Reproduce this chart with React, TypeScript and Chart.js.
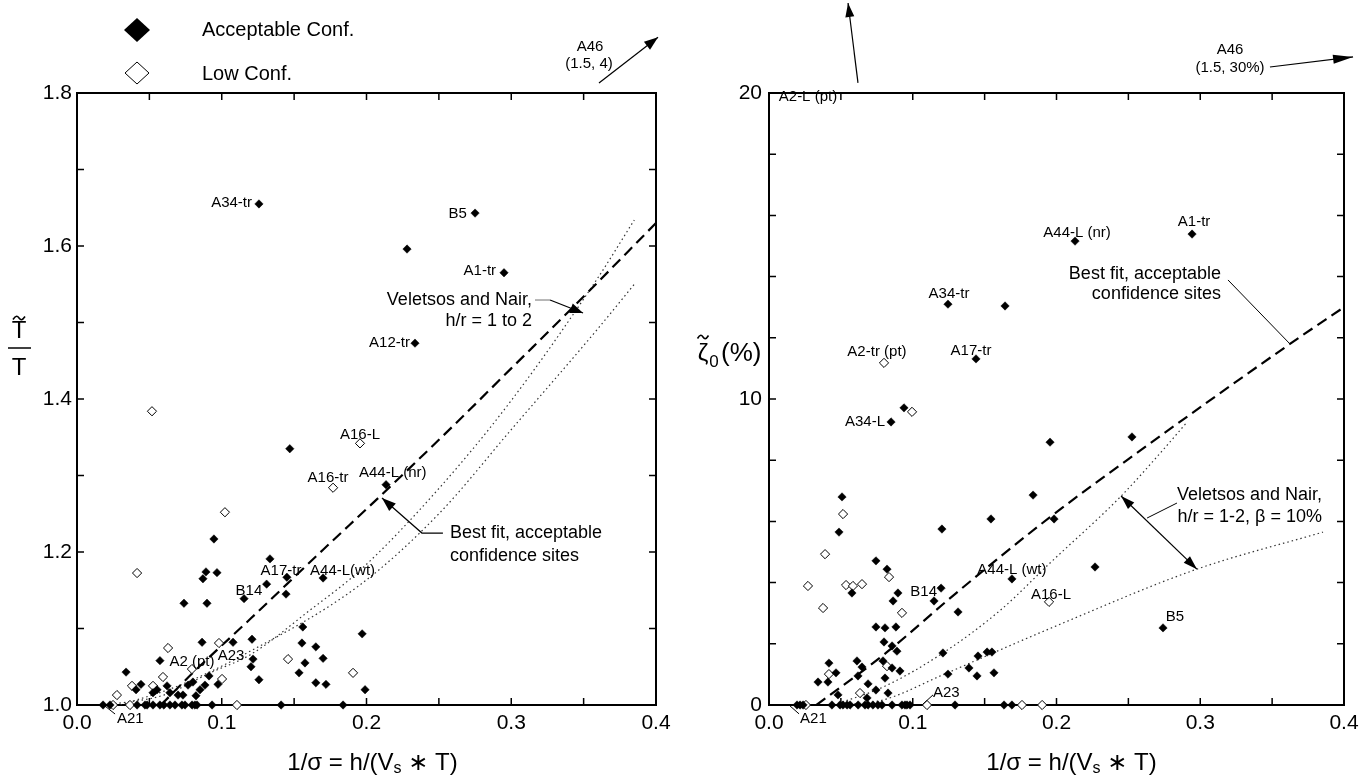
import React, { useEffect, useRef } from 'react';
import { Chart, registerables } from 'chart.js';
Chart.register(...registerables);

const FONT = '"Liberation Sans", Arial, Helvetica, "DejaVu Sans", sans-serif';

// ---------------- LEFT PANEL DATA (T~/T vs 1/sigma) ----------------
const leftAccX = [0.1257, 0.275, 0.228, 0.295, 0.2335, 0.2135, 0.147, 0.0946, 0.1333, 0.0891, 0.0967, 0.087, 0.145, 0.170, 0.131, 0.1444, 0.1154, 0.0739, 0.0898, 0.156, 0.0864, 0.1078, 0.1209, 0.1554, 0.165, 0.0573, 0.1216, 0.170, 0.1202, 0.1575, 0.0339, 0.1534, 0.0912, 0.1257, 0.165, 0.172, 0.0974, 0.0442, 0.0408, 0.0622, 0.0553, 0.0822, 0.0525, 0.0642, 0.0698, 0.0732, 0.0767, 0.0801, 0.085, 0.0884, 0.197, 0.199,
  0.018, 0.0228, 0.0415, 0.047, 0.0484, 0.0525, 0.0573, 0.06, 0.0642, 0.0677, 0.0725, 0.0746, 0.0795, 0.0815, 0.0829, 0.0933, 0.141, 0.1838];
const leftAccY = [1.655, 1.643, 1.596, 1.565, 1.473, 1.288, 1.335, 1.217, 1.191, 1.174, 1.173, 1.165, 1.167, 1.166, 1.158, 1.145, 1.139, 1.133, 1.133, 1.102, 1.082, 1.082, 1.086, 1.081, 1.076, 1.058, 1.060, 1.061, 1.050, 1.055, 1.043, 1.042, 1.038, 1.033, 1.029, 1.027, 1.027, 1.027, 1.020, 1.025, 1.020, 1.012, 1.016, 1.016, 1.013, 1.013, 1.026, 1.030, 1.020, 1.026, 1.093, 1.020,
  1, 1, 1, 1, 1, 1, 1, 1, 1, 1, 1, 1, 1, 1, 1, 1, 1, 1];
const leftLowX = [0.1955, 0.1769, 0.0518, 0.0415, 0.1022, 0.0981, 0.0629, 0.1458, 0.1907, 0.0594, 0.1002, 0.0794, 0.038, 0.0525, 0.0276, 0.0249, 0.0366, 0.1105];
const leftLowY = [1.342, 1.284, 1.384, 1.1725, 1.252, 1.081, 1.0745, 1.060, 1.042, 1.0366, 1.034, 1.047, 1.025, 1.025, 1.013, 1.0, 1.0, 1.0];

const leftFitX = [0.058, 0.08, 0.12, 0.17, 0.21, 0.26, 0.30, 0.3427, 0.4];
const leftFitY = [1.0, 1.042, 1.113, 1.203, 1.274, 1.365, 1.44, 1.52, 1.63];
const leftVnUpX = [0.02, 0.06, 0.092, 0.12, 0.161, 0.1955, 0.25, 0.30, 0.359, 0.385];
const leftVnUpY = [1.0, 1.013, 1.042, 1.066, 1.124, 1.176, 1.283, 1.398, 1.556, 1.634];
const leftVnLoX = [0.03, 0.07, 0.1174, 0.1955, 0.25, 0.30, 0.359, 0.385];
const leftVnLoY = [1.0, 1.025, 1.068, 1.157, 1.25, 1.36, 1.49, 1.55];

// ---------------- RIGHT PANEL DATA (zeta~0 vs 1/sigma) ----------------
const rightAccX = [0.2943, 0.2129, 0.1245, 0.1642, 0.144, 0.0939, 0.0849, 0.1955, 0.2525, 0.1837, 0.0508, 0.0487, 0.1203, 0.1544, 0.1983, 0.0744, 0.0821, 0.0577, 0.0897, 0.1197, 0.0863, 0.1148, 0.169, 0.1315, 0.2268, 0.2741, 0.0744, 0.0807, 0.0883, 0.080, 0.0856, 0.089, 0.0417, 0.0612, 0.0647, 0.0466, 0.0619, 0.0341, 0.041, 0.0793, 0.0856, 0.0911, 0.0807, 0.0689, 0.0744, 0.0828, 0.048, 0.0682, 0.121, 0.1245, 0.1454, 0.1517, 0.1551, 0.1391, 0.1447, 0.1565,
  0.0195, 0.0216, 0.0237, 0.0438, 0.0494, 0.0515, 0.0543, 0.0564, 0.062, 0.0668, 0.0689, 0.0723, 0.0758, 0.0786, 0.0856, 0.0925, 0.0946, 0.096, 0.0981, 0.1294, 0.1635, 0.169];
const rightAccY = [15.39, 15.16, 13.10, 13.04, 11.31, 9.71, 9.25, 8.59, 8.76, 6.86, 6.80, 5.65, 5.75, 6.08, 6.08, 4.71, 4.44, 3.66, 3.66, 3.82, 3.40, 3.40, 4.12, 3.04, 4.51, 2.52, 2.55, 2.52, 2.55, 2.06, 1.93, 1.76, 1.37, 1.44, 1.24, 1.05, 0.95, 0.75, 0.75, 1.44, 1.21, 1.11, 0.88, 0.69, 0.49, 0.39, 0.33, 0.23, 1.70, 1.01, 1.60, 1.73, 1.73, 1.21, 0.95, 1.05,
  0, 0, 0, 0, 0, 0, 0, 0, 0, 0, 0, 0, 0, 0, 0, 0, 0, 0, 0, 0, 0, 0];
const rightLowX = [0.080, 0.0995, 0.0515, 0.039, 0.0835, 0.0271, 0.0536, 0.0584, 0.0647, 0.0376, 0.0925, 0.1948, 0.0417, 0.0821, 0.0633, 0.0257, 0.1099, 0.176, 0.19];
const rightLowY = [11.18, 9.58, 6.24, 4.93, 4.18, 3.89, 3.92, 3.89, 3.95, 3.17, 3.01, 3.37, 1.01, 1.27, 0.39, 0, 0, 0, 0];

const rightFitX = [0.033, 0.08, 0.13, 0.1955, 0.256, 0.3624, 0.4];
const rightFitY = [0, 1.65, 3.65, 6.14, 8.24, 11.8, 13.0];
const rightVnUpX = [0.045, 0.08, 0.121, 0.161, 0.1955, 0.245, 0.274, 0.29];
const rightVnUpY = [0, 0.6, 1.7, 3.1, 4.64, 6.83, 8.33, 9.2];
const rightVnLoX = [0.05, 0.079, 0.1207, 0.1607, 0.1955, 0.2977, 0.3854];
const rightVnLoY = [0, 0.16, 0.98, 1.8, 2.5, 4.44, 5.65];

// ---------------- TICKS ----------------
const xMinorTicks = [0, 0.05, 0.1, 0.15, 0.2, 0.25, 0.3, 0.35, 0.4];
const leftYMinorTicks = [1.0, 1.1, 1.2, 1.3, 1.4, 1.5, 1.6, 1.7, 1.8];
const rightYMinorTicks = [0, 2, 4, 6, 8, 10, 12, 14, 16, 18, 20];

// ---------------- ANNOTATIONS (in data units) ----------------
type Txt = { t: string; x: number; y: number; size: number; align?: CanvasTextAlign };
type Path = { pts: [number, number][]; head?: 'end' | 'both'; color?: string; width?: number; hl?: number; hw?: number };

const leftTexts: Txt[] = [
  { t: 'A34-tr', x: 0.1209, y: 1.656, size: 15, align: 'right' },
  { t: 'B5', x: 0.2694, y: 1.642, size: 15, align: 'right' },
  { t: 'A1-tr', x: 0.2895, y: 1.567, size: 15, align: 'right' },
  { t: 'A12-tr', x: 0.230, y: 1.473, size: 15, align: 'right' },
  { t: 'A16-L', x: 0.1955, y: 1.353, size: 15 },
  { t: 'A16-tr', x: 0.1734, y: 1.297, size: 15 },
  { t: 'A44-L (nr)', x: 0.1948, y: 1.303, size: 15, align: 'left' },
  { t: 'A17-tr', x: 0.1409, y: 1.175, size: 15 },
  { t: 'A44-L(wt)', x: 0.161, y: 1.175, size: 15, align: 'left' },
  { t: 'B14', x: 0.1188, y: 1.149, size: 15 },
  { t: 'A2 (pt)', x: 0.0794, y: 1.056, size: 15 },
  { t: 'A23', x: 0.1064, y: 1.064, size: 15 },
  { t: 'A21', x: 0.0276, y: 0.9817, size: 15, align: 'left' },
  { t: 'Veletsos and Nair,', x: 0.3143, y: 1.5294, size: 18, align: 'right' },
  { t: 'h/r = 1 to 2', x: 0.3143, y: 1.502, size: 18, align: 'right' },
  { t: 'Best fit, acceptable', x: 0.2577, y: 1.2248, size: 18, align: 'left' },
  { t: 'confidence sites', x: 0.2577, y: 1.1948, size: 18, align: 'left' },
  { t: 'A46', x: 0.3544, y: 1.860, size: 15 },
  { t: '(1.5, 4)', x: 0.3537, y: 1.838, size: 15 },
];
const leftPaths: Path[] = [
  { pts: [[0.0193, 0.9987], [0.0263, 0.9882]], width: 1 },
  { pts: [[0.3164, 1.5294], [0.3268, 1.5294]], width: 1.2, color: '#888' },
  { pts: [[0.3268, 1.5294], [0.3496, 1.5124]], head: 'end', width: 1.2, hl: 13, hw: 5 },
  { pts: [[0.2528, 1.2248], [0.2383, 1.2248], [0.2107, 1.2706]], head: 'end', width: 1.2, hl: 14, hw: 5 },
  { pts: [[0.3606, 1.813], [0.4014, 1.873]], head: 'end', width: 1.2, hl: 14, hw: 5 },
];

const rightTexts: Txt[] = [
  { t: 'A1-tr', x: 0.2957, y: 15.78, size: 15 },
  { t: 'A44-L (nr)', x: 0.2143, y: 15.42, size: 15 },
  { t: 'A34-tr', x: 0.1252, y: 13.43, size: 15 },
  { t: 'A17-tr', x: 0.1405, y: 11.57, size: 15 },
  { t: 'A2-tr (pt)', x: 0.0751, y: 11.54, size: 15 },
  { t: 'A34-L', x: 0.0807, y: 9.25, size: 15, align: 'right' },
  { t: 'B14', x: 0.1169, y: 3.69, size: 15, align: 'right' },
  { t: 'A44-L (wt)', x: 0.169, y: 4.41, size: 15 },
  { t: 'A16-L', x: 0.1962, y: 3.59, size: 15 },
  { t: 'B5', x: 0.2824, y: 2.88, size: 15 },
  { t: 'A23', x: 0.1141, y: 0.39, size: 15, align: 'left' },
  { t: 'A21', x: 0.0216, y: -0.46, size: 15, align: 'left' },
  { t: 'A2-L (pt)', x: 0.0271, y: 19.87, size: 15 },
  { t: 'A46', x: 0.3207, y: 21.4, size: 15 },
  { t: '(1.5, 30%)', x: 0.3207, y: 20.82, size: 15 },
  { t: 'Best fit, acceptable', x: 0.3144, y: 14.08, size: 18, align: 'right' },
  { t: 'confidence sites', x: 0.3144, y: 13.43, size: 18, align: 'right' },
  { t: 'Veletsos and Nair,', x: 0.3847, y: 6.86, size: 18, align: 'right' },
  { t: 'h/r = 1-2, \u03B2 = 10%', x: 0.3847, y: 6.14, size: 18, align: 'right' },
];
const rightPaths: Path[] = [
  { pts: [[0.1071, 0.03], [0.1141, 0.33]], width: 1 },
  { pts: [[0.0146, -0.03], [0.0209, -0.29]], width: 1 },
  { pts: [[0.0619, 20.33], [0.055, 22.94]], head: 'end', width: 1.2, hl: 14, hw: 4.5 },
  { pts: [[0.3485, 20.85], [0.4063, 21.18]], head: 'end', width: 1.2, hl: 20, hw: 4.5 },
  { pts: [[0.3193, 13.89], [0.3624, 11.8]], width: 1 },
  { pts: [[0.2838, 6.60], [0.263, 6.11]], width: 1 },
  { pts: [[0.2449, 6.83], [0.2977, 4.44]], head: 'both', width: 1.2, hl: 14, hw: 4.5 },
];

function arrowHead(ctx: CanvasRenderingContext2D, x1: number, y1: number, x2: number, y2: number, len: number, w: number) {
  const a = Math.atan2(y2 - y1, x2 - x1);
  const bx = x2 - len * Math.cos(a);
  const by = y2 - len * Math.sin(a);
  ctx.beginPath();
  ctx.moveTo(x2, y2);
  ctx.lineTo(bx + w * Math.sin(a), by - w * Math.cos(a));
  ctx.lineTo(bx - w * Math.sin(a), by + w * Math.cos(a));
  ctx.closePath();
  ctx.fill();
}

function diamond(ctx: CanvasRenderingContext2D, x: number, y: number, hw: number, hh: number, filled: boolean) {
  ctx.beginPath();
  ctx.moveTo(x, y - hh);
  ctx.lineTo(x + hw, y);
  ctx.lineTo(x, y + hh);
  ctx.lineTo(x - hw, y);
  ctx.closePath();
  if (filled) { ctx.fillStyle = '#000'; ctx.fill(); }
  else { ctx.fillStyle = '#fff'; ctx.fill(); ctx.lineWidth = 1; ctx.strokeStyle = '#000'; ctx.stroke(); }
}

function drawXTitle(ctx: CanvasRenderingContext2D, cx: number, cy: number) {
  const parts: [string, number, number][] = [['1/\u03C3 = h/(V', 24, 0], ['s', 16, 6], [' \u2217 T)', 24, 0]];
  let total = 0;
  for (const [t, s] of parts) { ctx.font = `${s}px ${FONT}`; total += ctx.measureText(t).width; }
  let x = cx - total / 2;
  ctx.textAlign = 'left';
  ctx.textBaseline = 'middle';
  ctx.fillStyle = '#000';
  for (const [t, s, dy] of parts) {
    ctx.font = `${s}px ${FONT}`;
    ctx.fillText(t, x, cy + dy);
    x += ctx.measureText(t).width;
  }
}

function tilde(ctx: CanvasRenderingContext2D, cx: number, cy: number, w: number) {
  ctx.beginPath();
  ctx.lineWidth = 1.6;
  ctx.strokeStyle = '#000';
  ctx.moveTo(cx - w / 2, cy + 1.5);
  ctx.bezierCurveTo(cx - w / 4, cy - 3, cx - w / 8, cy - 2, cx, cy);
  ctx.bezierCurveTo(cx + w / 8, cy + 2, cx + w / 4, cy + 3, cx + w / 2, cy - 1.5);
  ctx.stroke();
}

function makeDecor(opts: { texts: Txt[]; paths: Path[]; yMinor: number[]; side: 'left' | 'right' }) {
  return {
    id: 'decor',
    beforeDatasetsDraw(chart: any) {
      const { ctx, chartArea: a } = chart;
      const xs = chart.scales.x;
      const ys = chart.scales.y;
      ctx.save();
      ctx.strokeStyle = '#000';
      ctx.lineWidth = 2;
      ctx.strokeRect(a.left, a.top, a.right - a.left, a.bottom - a.top);
      ctx.lineWidth = 1.5;
      ctx.beginPath();
      for (const v of xMinorTicks) {
        const px = xs.getPixelForValue(v);
        ctx.moveTo(px, a.bottom); ctx.lineTo(px, a.bottom - 7);
        ctx.moveTo(px, a.top); ctx.lineTo(px, a.top + 7);
      }
      for (const v of opts.yMinor) {
        const py = ys.getPixelForValue(v);
        ctx.moveTo(a.left, py); ctx.lineTo(a.left + 7, py);
        ctx.moveTo(a.right, py); ctx.lineTo(a.right - 7, py);
      }
      ctx.stroke();
      ctx.restore();
    },
    afterDatasetsDraw(chart: any) {
      const { ctx, chartArea: a } = chart;
      const xs = chart.scales.x;
      const ys = chart.scales.y;
      ctx.save();
      ctx.fillStyle = '#000';
      ctx.textBaseline = 'middle';
      for (const t of opts.texts) {
        ctx.font = `${t.size}px ${FONT}`;
        ctx.textAlign = t.align || 'center';
        ctx.fillText(t.t, xs.getPixelForValue(t.x), ys.getPixelForValue(t.y));
      }
      for (const p of opts.paths) {
        const pts = p.pts.map(([x, y]) => [xs.getPixelForValue(x), ys.getPixelForValue(y)]);
        ctx.beginPath();
        ctx.strokeStyle = p.color || '#000';
        ctx.lineWidth = p.width || 1;
        ctx.moveTo(pts[0][0], pts[0][1]);
        for (let i = 1; i < pts.length; i++) ctx.lineTo(pts[i][0], pts[i][1]);
        ctx.stroke();
        ctx.fillStyle = '#000';
        const n = pts.length;
        if (p.head === 'end' || p.head === 'both') arrowHead(ctx, pts[n - 2][0], pts[n - 2][1], pts[n - 1][0], pts[n - 1][1], p.hl || 12, p.hw || 4);
        if (p.head === 'both') arrowHead(ctx, pts[1][0], pts[1][1], pts[0][0], pts[0][1], p.hl || 12, p.hw || 4);
      }
      // axis titles
      const cx = (a.left + a.right) / 2 + (opts.side === 'left' ? 6 : 15);
      drawXTitle(ctx, cx, 763);
      ctx.fillStyle = '#000';
      if (opts.side === 'left') {
        ctx.font = `24px ${FONT}`;
        ctx.textAlign = 'center';
        ctx.fillText('T', 19, 331);
        tilde(ctx, 19, 318, 12);
        ctx.beginPath(); ctx.lineWidth = 1.5; ctx.moveTo(8, 348); ctx.lineTo(31, 348); ctx.stroke();
        ctx.fillText('T', 19, 368);
        // legend
        diamond(ctx, 137, 30, 13, 12, true);
        diamond(ctx, 137, 73, 12, 11, false);
        ctx.fillStyle = '#000';
        ctx.font = `20px ${FONT}`;
        ctx.textAlign = 'left';
        ctx.fillText('Acceptable Conf.', 202, 30);
        ctx.fillText('Low Conf.', 202, 74);
      } else {
        ctx.font = `24px ${FONT}`;
        ctx.textAlign = 'center';
        ctx.fillText('\u03B6', 703, 354);
        tilde(ctx, 703, 337, 11);
        ctx.font = `17px ${FONT}`;
        ctx.fillText('0', 714, 362);
        ctx.font = `26px ${FONT}`;
        ctx.textAlign = 'left';
        ctx.fillText('(%)', 721, 354);
      }
      ctx.restore();
    },
  };
}

function pts(xs: number[], ys: number[]) {
  return xs.map((x, i) => ({ x, y: ys[i] }));
}

function lineDs(xs: number[], ys: number[], dotted: boolean) {
  return {
    data: pts(xs, ys),
    showLine: true,
    pointRadius: 0,
    borderColor: dotted ? '#333' : '#000',
    borderWidth: dotted ? 1.2 : 2.2,
    borderDash: dotted ? [1.5, 3] : [11, 6],
    cubicInterpolationMode: 'monotone',
    fill: false,
    order: 2,
  };
}

function makeConfig(p: {
  acc: [number[], number[]]; low: [number[], number[]]; fit: [number[], number[]];
  up: [number[], number[]]; lo: [number[], number[]];
  padLeft: number; padRight: number; yWidth: number; yMin: number; yMax: number; yStep: number;
  yFmt: (v: number) => string; decor: any; yPad: number;
}): any {
  return {
    type: 'scatter',
    data: {
      datasets: [
        { data: pts(p.acc[0], p.acc[1]), pointStyle: 'rectRot', pointRadius: 4.2, backgroundColor: '#000', borderColor: '#000', borderWidth: 0.5, clip: false, order: 0 },
        { data: pts(p.low[0], p.low[1]), pointStyle: 'rectRot', pointRadius: 4.6, backgroundColor: '#fff', borderColor: '#000', borderWidth: 1, clip: false, order: 1 },
        lineDs(p.fit[0], p.fit[1], false),
        lineDs(p.up[0], p.up[1], true),
        lineDs(p.lo[0], p.lo[1], true),
      ],
    },
    options: {
      responsive: false,
      animation: false,
      events: [],
      layout: { padding: { left: p.padLeft, right: p.padRight, top: 93, bottom: 0 } },
      plugins: { legend: { display: false }, tooltip: { enabled: false }, title: { display: false } },
      scales: {
        x: {
          type: 'linear', min: 0, max: 0.4,
          afterFit: (s: any) => { s.height = 76; },
          grid: { display: false, drawTicks: false },
          border: { display: false },
          ticks: { stepSize: 0.1, autoSkip: false, maxRotation: 0, padding: 6, color: '#000', font: { family: FONT, size: 21 }, callback: (v: any) => Number(v).toFixed(1) },
        },
        y: {
          type: 'linear', min: p.yMin, max: p.yMax,
          afterFit: (s: any) => { s.width = p.yWidth; },
          grid: { display: false, drawTicks: false },
          border: { display: false },
          ticks: { stepSize: p.yStep, autoSkip: false, padding: p.yPad, color: '#000', font: { family: FONT, size: 21 }, callback: (v: any) => p.yFmt(Number(v)) },
        },
      },
    },
    plugins: [p.decor],
  };
}

export default function App() {
  const lRef = useRef<HTMLCanvasElement>(null);
  const rRef = useRef<HTMLCanvasElement>(null);
  useEffect(() => {
    const c1 = new Chart(lRef.current as HTMLCanvasElement, makeConfig({
      acc: [leftAccX, leftAccY], low: [leftLowX, leftLowY], fit: [leftFitX, leftFitY],
      up: [leftVnUpX, leftVnUpY], lo: [leftVnLoX, leftVnLoY],
      padLeft: 0, padRight: 713, yWidth: 77, yMin: 1.0, yMax: 1.8, yStep: 0.2,
      yFmt: (v) => v.toFixed(1), yPad: 5,
      decor: makeDecor({ texts: leftTexts, paths: leftPaths, yMinor: leftYMinorTicks, side: 'left' }),
    }));
    const c2 = new Chart(rRef.current as HTMLCanvasElement, makeConfig({
      acc: [rightAccX, rightAccY], low: [rightLowX, rightLowY], fit: [rightFitX, rightFitY],
      up: [rightVnUpX, rightVnUpY], lo: [rightVnLoX, rightVnLoY],
      padLeft: 690, padRight: 25, yWidth: 79, yMin: 0, yMax: 20, yStep: 10,
      yFmt: (v) => String(Math.round(v)), yPad: 7,
      decor: makeDecor({ texts: rightTexts, paths: rightPaths, yMinor: rightYMinorTicks, side: 'right' }),
    }));
    return () => { c1.destroy(); c2.destroy(); };
  }, []);
  return (
    <div style={{ position: 'absolute', left: 0, top: 0, width: 1369, height: 781, background: '#fff', overflow: 'hidden' }}>
      <canvas ref={lRef} width={1369} height={781} style={{ position: 'absolute', left: 0, top: 0 }} />
      <canvas ref={rRef} width={1369} height={781} style={{ position: 'absolute', left: 0, top: 0 }} />
    </div>
  );
}
